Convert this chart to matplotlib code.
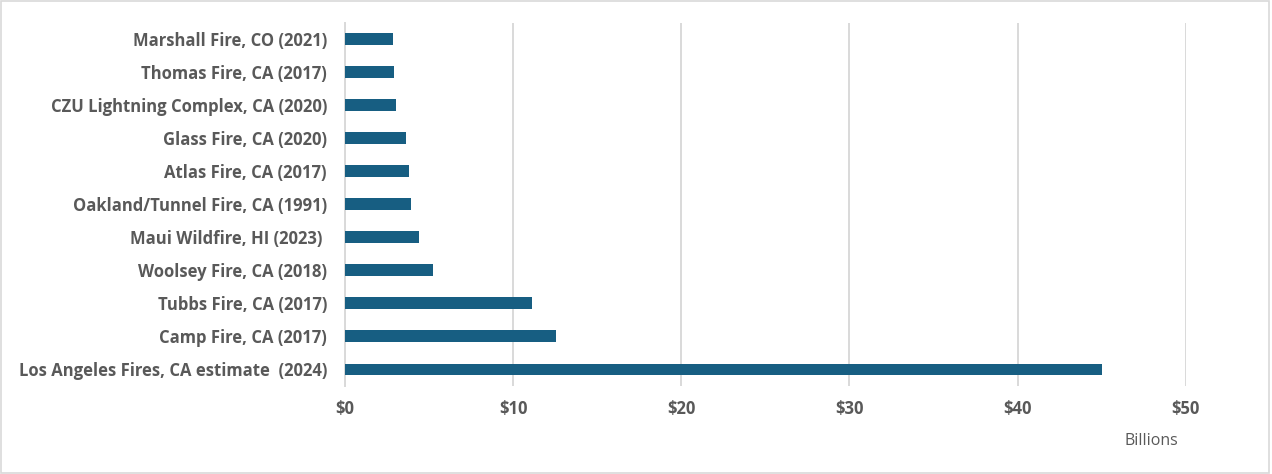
import matplotlib
matplotlib.use('Agg')
import matplotlib.pyplot as plt
from matplotlib.patches import Rectangle
import numpy as np

# Insured losses by wildfire, billions of USD (top row drawn first)
fires = [
    'Marshall Fire, CO (2021)',
    'Thomas Fire, CA (2017)',
    'CZU Lightning Complex, CA (2020)',
    'Glass Fire, CA (2020)',
    'Atlas Fire, CA (2017)',
    'Oakland/Tunnel Fire, CA (1991)',
    'Maui Wildfire, HI (2023) ',
    'Woolsey Fire, CA (2018)',
    'Tubbs Fire, CA (2017)',
    'Camp Fire, CA (2017)',
    'Los Angeles Fires, CA estimate  (2024)',
]
losses = [2.84, 2.9, 3.05, 3.6, 3.83, 3.95, 4.42, 5.26, 11.15, 12.54, 45.0]
x_ticks = [0, 10, 20, 30, 40, 50]
x_ticklabels = ['$0', '$10', '$20', '$30', '$40', '$50']

BAR_COLOR = '#175e82'
TEXT_COLOR = '#595959'
GRID_COLOR = '#d9d9d9'

plt.rcParams['font.family'] = ['Open Sans', 'DejaVu Sans']

fig = plt.figure(figsize=(12.72, 4.74), dpi=100)
ax = fig.add_axes([0.2712, 0.1857, 0.6610, 0.7667])

y = np.arange(len(fires))
ax.barh(y, losses, height=0.36, color=BAR_COLOR, zorder=3)

ax.set_ylim(len(fires) - 0.5, -0.5)
ax.set_xlim(0, 50)
ax.set_yticks(y)
ax.set_yticklabels(fires, fontsize=12, fontweight='bold', color=TEXT_COLOR)
ax.set_xticks(x_ticks)
ax.set_xticklabels(x_ticklabels, fontsize=12, fontweight='bold', color=TEXT_COLOR)
ax.tick_params(axis='y', length=0, pad=13)
ax.tick_params(axis='x', length=0, pad=10)

ax.grid(axis='x', color=GRID_COLOR, linewidth=1.4, zorder=0)
for side in ['top', 'right', 'bottom']:
    ax.spines[side].set_visible(False)
ax.spines['left'].set_color(GRID_COLOR)
ax.spines['left'].set_linewidth(1.4)

fig.text(0.905, 0.07, 'Billions', ha='center', va='center',
         fontsize=11.5, color=TEXT_COLOR)

# thin frame around the chart area
fig.patches.append(Rectangle((0.001, 0.002), 0.997, 0.995, transform=fig.transFigure,
                             fill=False, edgecolor='#d9d9d9', linewidth=1.2))

fig.savefig('out.png', dpi=100, facecolor='white')
